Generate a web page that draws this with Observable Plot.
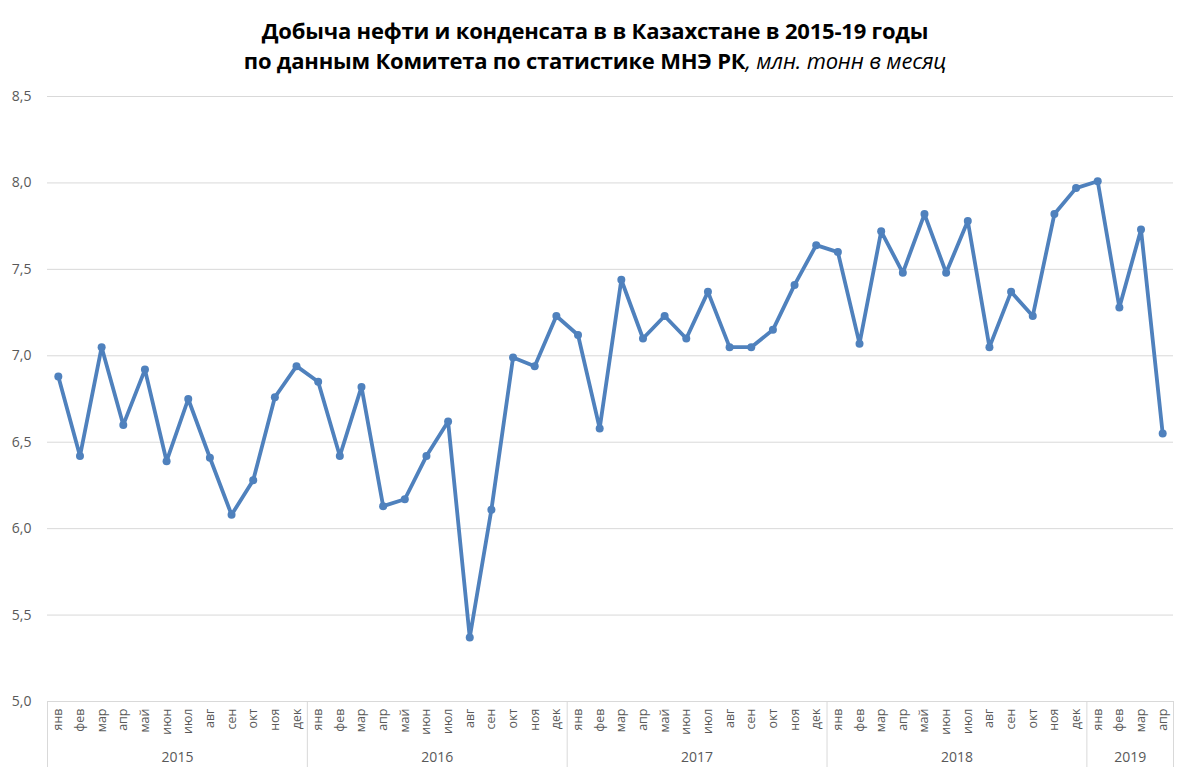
<!DOCTYPE html>
<html><head><meta charset="utf-8">
<script src="https://cdn.jsdelivr.net/npm/d3@7"></script>
<script src="https://cdn.jsdelivr.net/npm/@observablehq/plot@0.6"></script>
<style>
body{margin:0;background:#fff;width:1190px;height:781px;overflow:hidden;font-family:"Open Sans",sans-serif;}
#title{height:80px;text-align:center;color:#000;font-family:"Open Sans",sans-serif;font-weight:700;font-size:22px;line-height:30px;padding-top:15px;box-sizing:border-box;letter-spacing:-0.2px}
#title i{font-weight:400}
#chart svg{display:block}
</style></head>
<body>
<div id="title">Добыча нефти и конденсата в в Казахстане в 2015-19 годы<br>по данным Комитета по статистике МНЭ РК<i>, млн. тонн в месяц</i></div>
<div id="chart"></div>
<script>
const months = ["янв","фев","мар","апр","май","июн","июл","авг","сен","окт","ноя","дек"];
const years = ["2015", "2016", "2017", "2018", "2019"];
const monthsPerYear = [12, 12, 12, 12, 4];
const values = [
  6.88, 6.42, 7.05, 6.60, 6.92, 6.39, 6.75, 6.41, 6.08, 6.28, 6.76, 6.94,
  6.85, 6.42, 6.82, 6.13, 6.17, 6.42, 6.62, 5.37, 6.11, 6.99, 6.94, 7.23,
  7.12, 6.58, 7.44, 7.10, 7.23, 7.10, 7.37, 7.05, 7.05, 7.15, 7.41, 7.64,
  7.60, 7.07, 7.72, 7.48, 7.82, 7.48, 7.78, 7.05, 7.37, 7.23, 7.82, 7.97,
  8.01, 7.28, 7.73, 6.55
];
const yTicks = [5.0, 5.5, 6.0, 6.5, 7.0, 7.5, 8.0, 8.5];

const data = values.map((v, i) => ({i, v, month: months[i % 12]}));
let start = 0; const bounds = [-0.5]; const yearLabels = [];
monthsPerYear.forEach((n, k) => { yearLabels.push({x: start + (n - 1) / 2, label: years[k]}); start += n; bounds.push(start - 0.5); });

const fmt = d => d3.format(".1f")(d).replace(".", ",");

const plot = Plot.plot({
  width: 1190, height: 701,
  marginLeft: 47, marginRight: 17, marginTop: 16, marginBottom: 80,
  style: {fontFamily: "'Open Sans', sans-serif", color: "#595959", background: "#fff"},
  x: {type: "linear", domain: [-0.5, values.length - 0.5]},
  y: {domain: [5, 8.5]},
  marks: [
    Plot.gridY(yTicks, {stroke: "#d9d9d9", strokeOpacity: 1}),
    Plot.axisY(yTicks, {tickSize: 0, tickPadding: 16, tickFormat: fmt, fontSize: 14, fill: "#595959", label: null}),
    Plot.axisX(bounds, {tickSize: 66, tickFormat: () => "", stroke: "#d9d9d9", label: null}),
    Plot.axisX(data.map(d => d.i), {tickSize: 0, tickPadding: 7, tickRotate: -90, tickFormat: i => months[i % 12], fontSize: 12.5, fill: "#595959", label: null}),
    Plot.text(yearLabels, {x: "x", y: 5, text: "label", dy: 56, fontSize: 14, fill: "#595959"}),
    Plot.line(data, {x: "i", y: "v", stroke: "#4f81bd", strokeWidth: 3.8, strokeLinejoin: "round"}),
    Plot.dot(data, {x: "i", y: "v", fill: "#4f81bd", r: 4})
  ]
});
document.getElementById("chart").appendChild(plot);
</script>
</body></html>
